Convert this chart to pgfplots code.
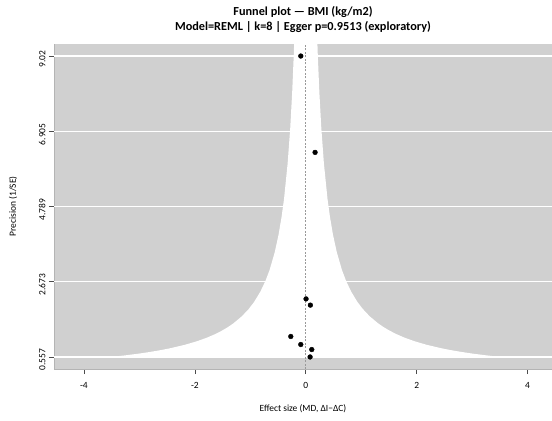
\documentclass[border=0pt]{standalone}
\usepackage{fontspec}
\setmainfont{Carlito}
\usepackage{pgfplots}
\pgfplotsset{compat=1.18}

\definecolor{bg}{RGB}{208,208,208}
\definecolor{edge}{RGB}{180,180,180}

\begin{document}
\begin{tikzpicture}
\begin{axis}[
    scale only axis,
    width=498bp, height=325bp,
    xmin=-4.54, xmax=4.44,
    ymin=0.2185, ymax=9.3585,
    axis background/.style={fill=bg},
    axis x line*=bottom, axis y line*=left,
    axis line style={draw=edge, line width=0.8pt},
    tick align=outside,
    major tick length=5bp,
    tick style={black!70, line width=0.6pt},
    xtick={-4,-2,0,2,4},
    ytick={0.557,2.673,4.789,6.905,9.02},
    yticklabels={0.557,2.673,4.789,6.905,9.02},
    /pgf/number format/assume math mode=true,
    ticklabel style={font=\fontsize{9.5}{11}\selectfont},
    xticklabel style={yshift=-5bp},
    yticklabel style={rotate=90, anchor=south, xshift=-3bp},
    xlabel={Effect size (MD, ΔI−ΔC)},
    ylabel={Precision (1/SE)},
    label style={font=\fontsize{9.5}{11}\selectfont},
    xlabel style={at={(axis description cs:0.5,-0.123)}, anchor=center},
    ylabel style={at={(axis description cs:-0.082,0.5)}, anchor=center},
    title={Funnel plot — BMI (kg/m2)\\Model=REML | k=8 | Egger p=0.9513 (exploratory)},
    title style={font=\bfseries\fontsize{12.3}{15}\selectfont, align=center,
        at={(axis description cs:0.5,1)}, anchor=south, yshift=2bp},
]
\coordinate (sw) at (rel axis cs:0,0);
\coordinate (ne) at (rel axis cs:1,1);
% white lines at the precision ticks
\addplot[white, line width=1.1pt] coordinates {(-4.54,0.557) (4.44,0.557)};
\addplot[white, line width=1.1pt] coordinates {(-4.54,2.673) (4.44,2.673)};
\addplot[white, line width=1.1pt] coordinates {(-4.54,4.789) (4.44,4.789)};
\addplot[white, line width=1.1pt] coordinates {(-4.54,6.905) (4.44,6.905)};
\addplot[white, line width=1.1pt] coordinates {(-4.54,9.02) (4.44,9.02)};
% pseudo confidence region (white funnel)
\addplot[fill=white, draw=none] coordinates {
    (-3.519,0.557) (-3.267,0.6) (-3.015,0.65) (-2.8,0.7) (-2.613,0.75) (-2.45,0.8)
    (-2.178,0.9) (-1.96,1.0) (-1.782,1.1) (-1.633,1.2) (-1.508,1.3) (-1.4,1.4)
    (-1.307,1.5) (-1.153,1.7) (-1.032,1.9) (-0.933,2.1) (-0.817,2.4) (-0.726,2.7)
    (-0.653,3.0) (-0.56,3.5) (-0.49,4.0) (-0.436,4.5) (-0.392,5.0) (-0.327,6.0)
    (-0.28,7.0) (-0.245,8.0) (-0.218,9.0) (-0.2,9.8)
    (0.2,9.8) (0.218,9.0) (0.245,8.0) (0.28,7.0) (0.327,6.0) (0.392,5.0)
    (0.436,4.5) (0.49,4.0) (0.56,3.5) (0.653,3.0) (0.726,2.7) (0.817,2.4)
    (0.933,2.1) (1.032,1.9) (1.153,1.7) (1.307,1.5) (1.4,1.4) (1.508,1.3)
    (1.633,1.2) (1.782,1.1) (1.96,1.0) (2.178,0.9) (2.45,0.8) (2.613,0.75)
    (2.8,0.7) (3.015,0.65) (3.267,0.6) (3.519,0.557)
} -- cycle;
% pooled estimate
\addplot[black!40, dash pattern=on 2bp off 1.5bp, line width=0.7pt] coordinates {(0,0.2185) (0,9.3585)};
% studies
\addplot[only marks, mark=*, mark size=2.4pt, black] coordinates {
    (-0.09,9.02) (0.168,6.31) (0.005,2.19) (0.083,2.015)
    (-0.27,1.133) (-0.09,0.907) (0.108,0.766) (0.078,0.557)
};
\end{axis}
\pgfresetboundingbox
\path[use as bounding box] ([xshift=-54bp,yshift=-52bp]sw) rectangle ([yshift=44bp]ne);
\end{tikzpicture}
\end{document}
